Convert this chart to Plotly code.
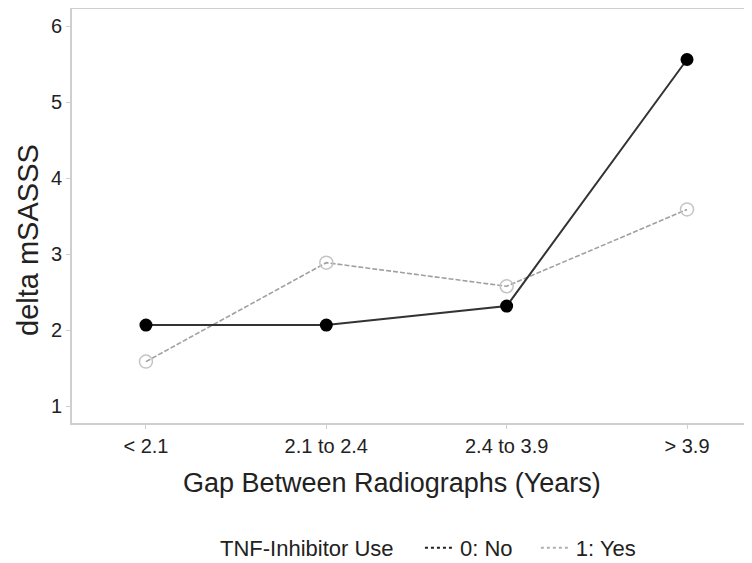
import plotly.graph_objects as go

categories = ["< 2.1", "2.1 to 2.4", "2.4 to 3.9", "> 3.9"]
no_tnf = [2.07, 2.07, 2.32, 5.56]
yes_tnf = [1.59, 2.89, 2.58, 3.59]
series_names = ["0: No", "1: Yes"]
y_ticks = [1, 2, 3, 4, 5, 6]

xpos = list(range(len(categories)))

fig = go.Figure()
fig.add_trace(go.Scatter(
    x=xpos, y=yes_tnf, mode="lines+markers", showlegend=False,
    line=dict(color="#a0a0a0", width=1.6, dash="5px,2px"),
    marker=dict(symbol="circle-open", size=13, color="#c4c4c4", line=dict(width=1.5)),
))
fig.add_trace(go.Scatter(
    x=xpos, y=no_tnf, mode="lines+markers", showlegend=False,
    line=dict(color="#333333", width=2),
    marker=dict(symbol="circle", size=13, color="#000000"),
))
# legend entries (line keys only)
fig.add_trace(go.Scatter(x=[None], y=[None], mode="lines", name=series_names[0] + "   ",
                         line=dict(color="#222222", width=2, dash="dot")))
fig.add_trace(go.Scatter(x=[None], y=[None], mode="lines", name=series_names[1],
                         line=dict(color="#b0b0b0", width=2, dash="dot")))

fig.update_layout(
    width=736, height=555,
    margin=dict(l=64, r=0, t=1, b=140, autoexpand=False),
    paper_bgcolor="white", plot_bgcolor="white",
    font=dict(family="Liberation Sans, Arial, sans-serif", color="#222222"),
    xaxis=dict(
        range=[-0.41, 3.316], tickmode="array", tickvals=xpos, ticktext=categories,
        showgrid=False, zeroline=False, showline=True, linecolor="#cfcfcf", linewidth=2,
        mirror=True, ticks="outside", ticklen=4, tickcolor="#cfcfcf",
        tickfont=dict(size=20, color="#222222"),
    ),
    yaxis=dict(
        range=[0.783, 6.224], tickmode="array", tickvals=y_ticks,
        showgrid=False, zeroline=False, showline=True, linecolor="#cfcfcf", linewidth=2,
        mirror=False, ticks="outside", ticklen=4, tickcolor="#cfcfcf",
        tickfont=dict(size=20, color="#222222"),
    ),
    annotations=[
        dict(text="Gap Between Radiographs (Years)", xref="paper", yref="paper",
             x=0.476, y=-0.145, xanchor="center", yanchor="middle", showarrow=False,
             font=dict(size=27, color="#222222")),
        dict(text="delta mSASSS", xref="paper", yref="paper", textangle=-90,
             x=-0.0655, y=0.442, xanchor="center", yanchor="middle", showarrow=False,
             font=dict(size=29, color="#222222")),
    ],
    legend=dict(
        orientation="h", x=0.532, xanchor="center", y=-0.302, yanchor="middle",
        title=dict(text="TNF-Inhibitor Use   ", font=dict(size=22)),
        font=dict(size=22), itemwidth=30, bgcolor="rgba(0,0,0,0)",
    ),
)

fig.write_html("out.html")
